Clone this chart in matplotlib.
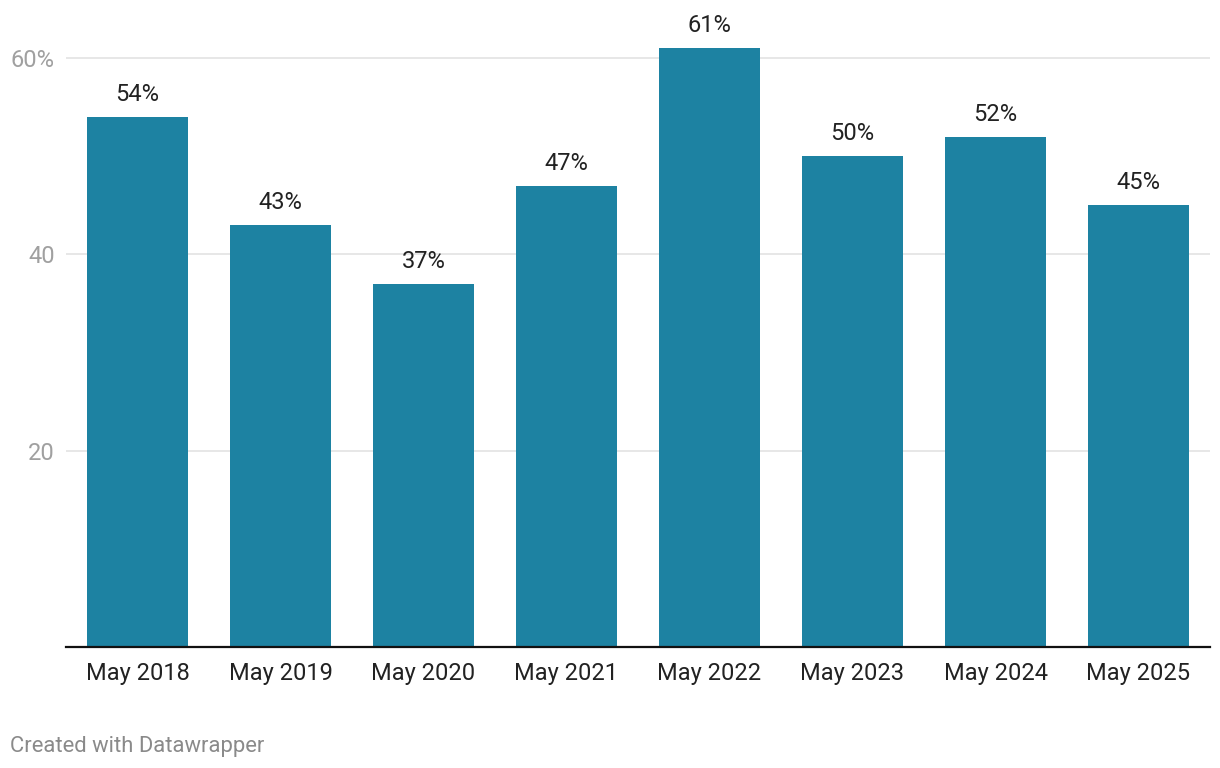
import matplotlib
matplotlib.use('agg')
import matplotlib.pyplot as plt

plt.rcParams['font.family'] = ['Roboto', 'DejaVu Sans']

# chart data
years = ['May 2018', 'May 2019', 'May 2020', 'May 2021',
         'May 2022', 'May 2023', 'May 2024', 'May 2025']
share = [54, 43, 37, 47, 61, 50, 52, 45]
y_ticks = [20, 40, 60]
y_tick_labels = ['20', '40', '60%']

bar_color = '#1d82a2'

fig = plt.figure(figsize=(12.2, 7.68), dpi=100)
ax = fig.add_axes([66 / 1220, 121 / 768, 1144 / 1220, 617 / 768])

pos = range(len(years))
bars = ax.bar(pos, share, width=0.7, color=bar_color, zorder=2)

for rect, v in zip(bars, share):
    ax.annotate(f'{v}%', (rect.get_x() + rect.get_width() / 2, v),
                xytext=(0, 11.5), textcoords='offset points',
                ha='center', va='baseline', fontsize=17, color='#222222')

ax.set_xlim(-0.5, 7.5)
ax.set_ylim(0, 60 * 617 / 589)

ax.set_xticks(list(pos))
ax.set_xticklabels(years, fontsize=17, color='#222222')
ax.set_yticks(y_ticks)
ax.set_yticklabels(y_tick_labels, fontsize=17, color='#a0a0a0')
ax.tick_params(axis='both', length=0)
ax.tick_params(axis='x', pad=11)
ax.tick_params(axis='y', pad=8)

ax.yaxis.grid(True, color='#e5e5e5', linewidth=1.3, zorder=0)
ax.set_axisbelow(True)
for side in ['top', 'right', 'left']:
    ax.spines[side].set_visible(False)
ax.spines['bottom'].set_color('#111111')
ax.spines['bottom'].set_linewidth(1.6)
ax.spines['bottom'].set_zorder(3)

fig.text(10 / 1220, 1 - 752 / 768, 'Created with Datawrapper',
         fontsize=15.8, color='#8a8a8a', ha='left', va='baseline')

plt.savefig('out.png', dpi=100)
plt.close()
